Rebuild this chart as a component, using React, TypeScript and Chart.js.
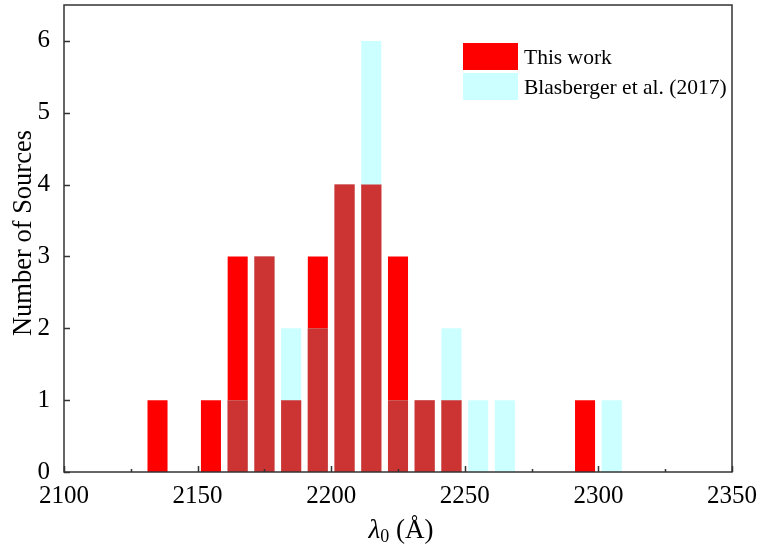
import React, { useEffect, useRef } from "react";
import { Chart, registerables } from "chart.js";

Chart.register(...registerables);

const binCenters = [2135, 2145, 2155, 2165, 2175, 2185, 2195, 2205, 2215, 2225, 2235, 2245, 2255, 2265, 2275, 2285, 2295, 2305];
const thisWork = [1, 0, 1, 3, 3, 1, 3, 4, 4, 3, 1, 1, 0, 0, 0, 0, 1, 0];
const blasberger = [0, 0, 0, 1, 3, 2, 2, 4, 6, 1, 1, 2, 1, 1, 0, 0, 0, 1];
const seriesLabels = ["This work", "Blasberger et al. (2017)"];
const xTickValues = [2100, 2150, 2200, 2250, 2300, 2350];
const xMinorTicks = [2125, 2175, 2225, 2275, 2325];
const yTickValues = [0, 1, 2, 3, 4, 5, 6];

const RED = "rgb(255,0,0)";
const CYAN = "rgb(204,255,255)";
const OVERLAP = "rgb(204,51,51)";
const AXIS = "#333333";
const SERIF = "'Liberation Serif', 'Times New Roman', serif";

const decorPlugin = {
  id: "decor",
  afterDatasetsDraw(chart: any) {
    const ctx = chart.ctx;
    const { left, right, top, bottom } = chart.chartArea;
    const xs = chart.scales.x;
    const ys = chart.scales.y;
    ctx.save();
    // ticks (inward)
    ctx.strokeStyle = AXIS;
    ctx.lineWidth = 1.5;
    ctx.beginPath();
    xTickValues.forEach((v) => {
      const px = Math.round(xs.getPixelForValue(v)) + 0.5;
      ctx.moveTo(px, bottom);
      ctx.lineTo(px, bottom - 6);
    });
    xMinorTicks.forEach((v) => {
      const px = Math.round(xs.getPixelForValue(v)) + 0.5;
      ctx.moveTo(px, bottom);
      ctx.lineTo(px, bottom - 3);
    });
    yTickValues.forEach((v) => {
      const py = Math.round(ys.getPixelForValue(v)) + 0.5;
      ctx.moveTo(left, py);
      ctx.lineTo(left + 6, py);
    });
    ctx.stroke();
    // frame
    ctx.lineWidth = 1.5;
    ctx.strokeRect(left, top, right - left, bottom - top);

    // legend
    const lx = right - 269;
    const boxes = [
      { color: RED, label: seriesLabels[0], y: top + 38 },
      { color: CYAN, label: seriesLabels[1], y: top + 68 },
    ];
    ctx.font = `21.5px ${SERIF}`;
    ctx.textBaseline = "middle";
    ctx.textAlign = "left";
    boxes.forEach((b) => {
      ctx.fillStyle = b.color;
      ctx.fillRect(lx, b.y, 55, 27);
      ctx.fillStyle = "#000";
      ctx.fillText(b.label, lx + 61, b.y + 15);
    });

    // y title
    ctx.save();
    ctx.translate(24, 233);
    ctx.rotate(-Math.PI / 2);
    ctx.font = `26.5px ${SERIF}`;
    ctx.textAlign = "center";
    ctx.textBaseline = "middle";
    ctx.fillStyle = "#000";
    ctx.fillText("Number of Sources", 0, 0);
    ctx.restore();

    // x title: italic λ, subscript 0, then (Å)
    const baseY = 538;
    const f1 = `italic 27px ${SERIF}`;
    const f2 = `18px ${SERIF}`;
    const f3 = `27px ${SERIF}`;
    const t1 = "λ";
    const t2 = "0";
    const t3 = " (Å)";
    ctx.textBaseline = "alphabetic";
    ctx.textAlign = "left";
    ctx.font = f1;
    const w1 = ctx.measureText(t1).width;
    ctx.font = f2;
    const w2 = ctx.measureText(t2).width;
    ctx.font = f3;
    const w3 = ctx.measureText(t3).width;
    let x0 = (left + right) / 2 - (w1 + w2 + w3) / 2 + 3;
    ctx.fillStyle = "#000";
    ctx.font = f1;
    ctx.fillText(t1, x0, baseY);
    x0 += w1;
    ctx.font = f2;
    ctx.fillText(t2, x0, baseY + 4);
    x0 += w2;
    ctx.font = f3;
    ctx.fillText(t3, x0, baseY);
    ctx.restore();
  },
};

export default function App() {
  const ref = useRef<HTMLCanvasElement | null>(null);
  useEffect(() => {
    if (!ref.current) return;
    const overlap = thisWork.map((v, i) => Math.min(v, blasberger[i]));
    const chart = new Chart(ref.current, {
      type: "bar",
      data: {
        datasets: [
          {
            label: seriesLabels[0],
            data: binCenters.map((x, i) => ({ x, y: thisWork[i] })),
            backgroundColor: RED,
            borderWidth: 0,
            order: 2,
          },
          {
            label: seriesLabels[1],
            data: binCenters.map((x, i) => ({ x, y: blasberger[i] })),
            backgroundColor: CYAN,
            borderWidth: 0,
            order: 1,
          },
          {
            label: "overlap",
            data: binCenters.map((x, i) => ({ x, y: overlap[i] })),
            backgroundColor: OVERLAP,
            borderWidth: 0,
            order: 0,
          },
        ] as any,
      },
      plugins: [decorPlugin],
      options: {
        animation: false,
        responsive: true,
        maintainAspectRatio: false,
        datasets: { bar: { grouped: false, barPercentage: 0.75, categoryPercentage: 1 } } as any,
        layout: { padding: { top: 5, right: 29, left: 0, bottom: 0 } },
        plugins: { legend: { display: false }, tooltip: { enabled: false } },
        scales: {
          x: {
            type: "linear",
            min: 2100,
            max: 2350,
            offset: false,
            grid: { display: false },
            border: { display: false },
            afterBuildTicks: (s: any) => {
              s.ticks = xTickValues.map((v) => ({ value: v }));
            },
            afterFit: (s: any) => {
              s.height = 73;
              s.paddingLeft = 0;
              s.paddingRight = 0;
            },
            ticks: {
              autoSkip: false,
              maxRotation: 0,
              padding: 1,
              color: "#000",
              font: { family: SERIF, size: 25 },
              callback: (v: any) => String(v),
            },
          },
          y: {
            min: 0,
            max: 6.5,
            grid: { display: false },
            border: { display: false },
            afterBuildTicks: (s: any) => {
              s.ticks = yTickValues.map((v) => ({ value: v }));
            },
            afterFit: (s: any) => {
              s.width = 64;
              s.paddingTop = 0;
              s.paddingBottom = 0;
            },
            ticks: {
              padding: 6,
              color: "#000",
              font: { family: SERIF, size: 25 },
              callback: (v: any) => String(v),
            },
          },
        },
      },
    });
    return () => chart.destroy();
  }, []);
  return (
    <div style={{ position: "fixed", left: 0, top: 0, width: 761, height: 545, background: "#fff" }}>
      <canvas ref={ref} />
    </div>
  );
}
